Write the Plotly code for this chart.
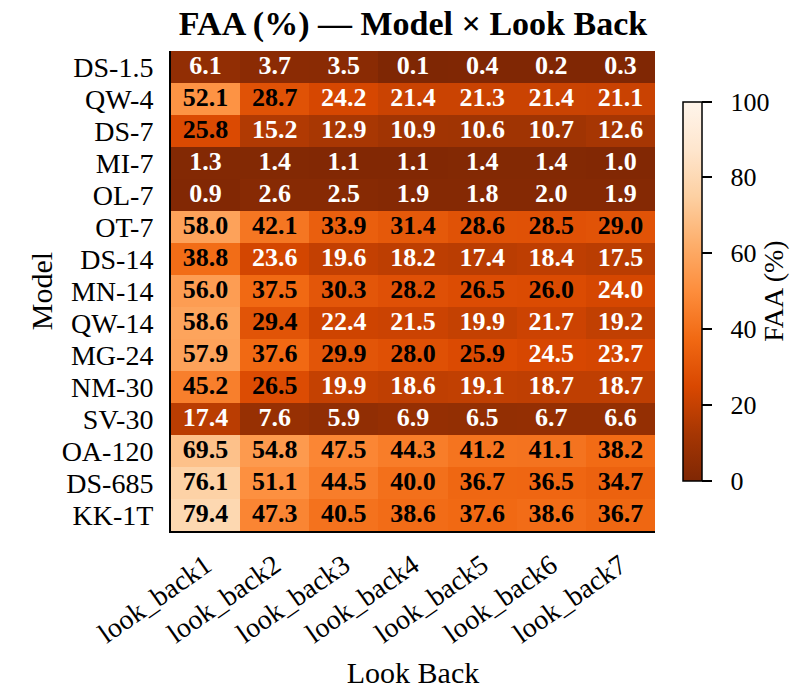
import plotly.graph_objects as go

models = ["DS-1.5", "QW-4", "DS-7", "MI-7", "OL-7", "OT-7", "DS-14", "MN-14",
          "QW-14", "MG-24", "NM-30", "SV-30", "OA-120", "DS-685", "KK-1T"]
look_backs = ["look_back1", "look_back2", "look_back3", "look_back4",
              "look_back5", "look_back6", "look_back7"]

faa_ds_1_5 = [6.1, 3.7, 3.5, 0.1, 0.4, 0.2, 0.3]
faa_qw_4 = [52.1, 28.7, 24.2, 21.4, 21.3, 21.4, 21.1]
faa_ds_7 = [25.8, 15.2, 12.9, 10.9, 10.6, 10.7, 12.6]
faa_mi_7 = [1.3, 1.4, 1.1, 1.1, 1.4, 1.4, 1.0]
faa_ol_7 = [0.9, 2.6, 2.5, 1.9, 1.8, 2.0, 1.9]
faa_ot_7 = [58.0, 42.1, 33.9, 31.4, 28.6, 28.5, 29.0]
faa_ds_14 = [38.8, 23.6, 19.6, 18.2, 17.4, 18.4, 17.5]
faa_mn_14 = [56.0, 37.5, 30.3, 28.2, 26.5, 26.0, 24.0]
faa_qw_14 = [58.6, 29.4, 22.4, 21.5, 19.9, 21.7, 19.2]
faa_mg_24 = [57.9, 37.6, 29.9, 28.0, 25.9, 24.5, 23.7]
faa_nm_30 = [45.2, 26.5, 19.9, 18.6, 19.1, 18.7, 18.7]
faa_sv_30 = [17.4, 7.6, 5.9, 6.9, 6.5, 6.7, 6.6]
faa_oa_120 = [69.5, 54.8, 47.5, 44.3, 41.2, 41.1, 38.2]
faa_ds_685 = [76.1, 51.1, 44.5, 40.0, 36.7, 36.5, 34.7]
faa_kk_1t = [79.4, 47.3, 40.5, 38.6, 37.6, 38.6, 36.7]

z = [faa_ds_1_5, faa_qw_4, faa_ds_7, faa_mi_7, faa_ol_7, faa_ot_7, faa_ds_14,
     faa_mn_14, faa_qw_14, faa_mg_24, faa_nm_30, faa_sv_30, faa_oa_120,
     faa_ds_685, faa_kk_1t]

cbar_ticks = [0, 20, 40, 60, 80, 100]
cbar_labels = ["0", "20", "40", "60", "80", "100"]

FONT = "Liberation Serif, Times New Roman, serif"

fig = go.Figure()
fig.add_trace(go.Heatmap(
    z=z, x=look_backs, y=models, zmin=0, zmax=100,
    colorscale="Oranges_r", xgap=0, ygap=0,
    colorbar=dict(
        title=dict(text="FAA (%)", side="right", font=dict(family=FONT, size=28, color="black")),
        x=1.058, xanchor="left", y=0.5, yanchor="middle", len=0.79, lenmode="fraction",
        thickness=19, outlinecolor="black", outlinewidth=1.5,
        ticks="outside", ticklen=10, tickwidth=1.5, tickcolor="black",
        tickmode="array", tickvals=cbar_ticks,
        ticktext=["\u00a0\u00a0" + t for t in cbar_labels],
        tickfont=dict(family=FONT, size=26, color="black"),
        xpad=0, ypad=0,
    ),
))

# cell value labels: dark text on light cells, white text on dark cells
xs, ys, txt, cols = [], [], [], []
for m, row in zip(models, z):
    for lb, v in zip(look_backs, row):
        xs.append(lb)
        ys.append(m)
        txt.append(f"{v:.1f}")
        cols.append("black" if v >= 25 else "white")

fig.add_trace(go.Scatter(
    x=xs, y=ys, text=txt, mode="text",
    textfont=dict(family=FONT, size=26, color=cols, weight="bold"),
    hoverinfo="skip", showlegend=False,
))

fig.update_layout(
    width=812, height=691,
    margin=dict(l=171, r=157, t=51, b=160, autoexpand=False),
    paper_bgcolor="white", plot_bgcolor="white",
    title=dict(text="<b>FAA (%) — Model × Look Back</b>", x=0.5, xref="paper",
               xanchor="center", yref="container", y=1 - 23 / 691, yanchor="middle",
               font=dict(family=FONT, size=34, color="black")),
    xaxis=dict(
        type="category", range=[-0.5, len(look_backs) - 0.5],
        showline=True, linecolor="black", linewidth=2,
        tickmode="array", tickvals=look_backs, automargin=False,
        ticks="", tickangle=-35, showgrid=False, zeroline=False,
        ticklabelstandoff=5,
        tickfont=dict(family=FONT, size=28, color="black"),
        title=dict(text="Look Back", font=dict(family=FONT, size=30, color="black"), standoff=14),
    ),
    yaxis=dict(
        type="category", range=[len(models) - 0.5, -0.5],
        showline=True, linecolor="black", linewidth=2,
        tickmode="array", tickvals=models, automargin=False,
        ticks="", showgrid=False, zeroline=False, ticklabelstandoff=10,
        tickfont=dict(family=FONT, size=28, color="black"),
        title=dict(text="Model", font=dict(family=FONT, size=30, color="black"), standoff=0),
    ),
)

fig.write_html("out.html")
